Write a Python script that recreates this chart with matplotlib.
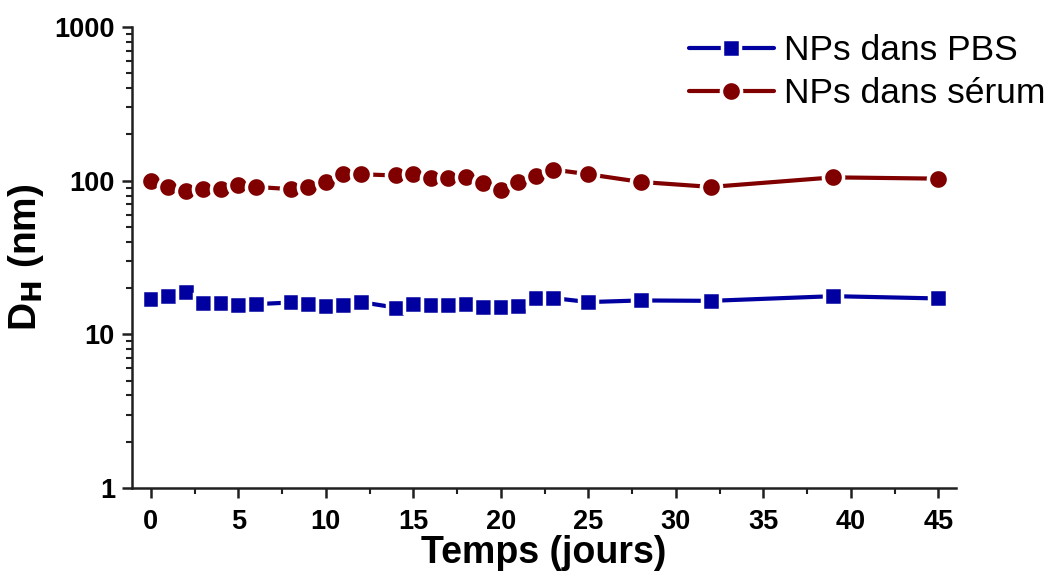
import numpy as np
import matplotlib
matplotlib.use("Agg")
import matplotlib.pyplot as plt
from matplotlib.ticker import MultipleLocator, LogLocator, NullFormatter, FixedLocator

days = [0, 1, 2, 3, 4, 5, 6, 8, 9, 10, 11, 12, 14, 15, 16, 17, 18, 19, 20, 21, 22, 23, 25, 28, 32, 39, 45]
pbs = [16.9, 17.7, 18.7, 15.9, 15.9, 15.4, 15.7, 16.1, 15.7, 15.3, 15.4, 16.2, 14.9, 15.7, 15.5, 15.5, 15.7,
       15.1, 15.1, 15.3, 17.3, 17.2, 16.2, 16.6, 16.5, 17.7, 17.1]
serum = [99, 91, 85, 88, 88, 93, 91, 88, 91, 98, 110, 110, 108, 111, 104, 104, 106,
         97, 87.5, 97.5, 107, 118, 110, 98, 91, 105, 103]
labels = ["NPs dans PBS", "NPs dans sérum"]

plt.rcParams['font.family'] = ['Liberation Sans', 'DejaVu Sans']

fig = plt.figure(figsize=(10.61, 5.74), dpi=100)
ax = fig.add_axes([0.124, 0.150, 0.777, 0.803])

ax.plot(days, pbs, color='#0000a0', lw=3, marker='s', ms=13, mfc='#0000a0',
        mec='white', mew=2.5, label=labels[0], solid_capstyle='round')
ax.plot(days, serum, color='#800000', lw=3, marker='o', ms=14.5, mfc='#800000',
        mec='white', mew=2.5, label=labels[1], solid_capstyle='round')

ax.set_yscale('log')
ax.set_ylim(1, 1000)
ax.set_xlim(-1.1, 46)

ax.xaxis.set_major_locator(MultipleLocator(5))
ax.xaxis.set_minor_locator(MultipleLocator(2.5))
ax.yaxis.set_major_locator(FixedLocator([1, 10, 100, 1000]))
ax.yaxis.set_major_formatter(matplotlib.ticker.FuncFormatter(lambda v, p: "%d" % v))
ax.yaxis.set_minor_locator(LogLocator(base=10, subs=np.arange(2, 10)))
ax.yaxis.set_minor_formatter(NullFormatter())

for s in ['top', 'right']:
    ax.spines[s].set_visible(False)
for s in ['left', 'bottom']:
    ax.spines[s].set_linewidth(1.8)
    ax.spines[s].set_color('#202020')

ax.tick_params(which='major', length=7, width=1.8, color='#202020')
ax.tick_params(which='minor', length=4, width=1.5, color='#202020')
ax.tick_params(axis='y', labelsize=19.5, pad=5)
ax.tick_params(axis='x', labelsize=19.5, pad=8)
for t in ax.get_xticklabels() + ax.get_yticklabels():
    t.set_fontweight('bold')

ax.set_xlabel("Temps (jours)", fontsize=27, fontweight='bold', labelpad=0.5)
ax.set_ylabel(r"D$_\mathbf{H}$ (nm)", fontsize=28, fontweight='bold', labelpad=6)

ax.legend(loc='upper left', bbox_to_anchor=(0.649, 0.94), bbox_transform=fig.transFigure,
          frameon=False, fontsize=25.5, borderpad=0, borderaxespad=0,
          handlelength=2.4, handletextpad=0.28, labelspacing=0.28)

fig.savefig("out.png", dpi=100)
